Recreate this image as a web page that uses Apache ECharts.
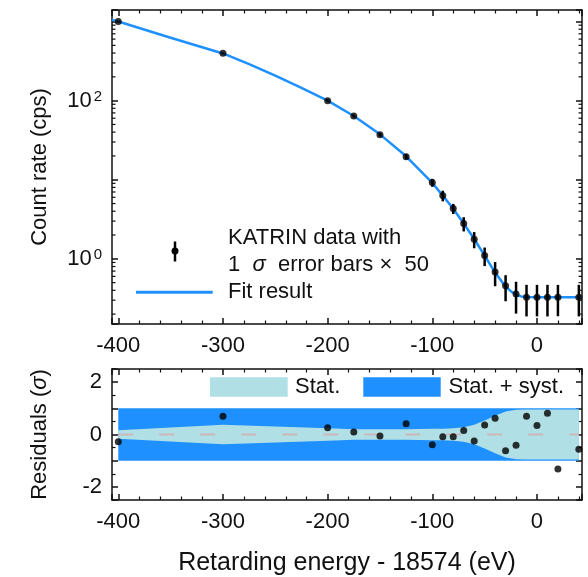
<!DOCTYPE html>
<html><head><meta charset="utf-8">
<script src="https://cdn.jsdelivr.net/npm/echarts@6/dist/echarts.min.js"></script>
<style>html,body{margin:0;padding:0;background:#fff}#c{width:588px;height:577px}</style>
</head><body><div id="c"></div>
<script>
// ---------- data ----------
const energies = [-400,-300,-200,-175,-150,-125,-100,-90,-80,-70,-60,-50,-40,-30,-20,-10,0,10,20,40];
const countRates = [1000,397,100,64,37.1,19.6,9.2,6.3,4.32,2.79,1.77,1.10,0.68,0.456,0.358,0.328,0.328,0.328,0.328,0.328];
const rateErrors50 = [8,6,3,2.5,1.9,1.5,1.07,0.97,0.63,0.57,0.41,0.29,0.23,0.165,0.155,0.141,0.141,0.141,0.14,0.141];
const fitEnergies = [-406,-400,-350,-300,-275,-250,-225,-200,-175,-150,-125,-100,-90,-80,-70,-60,-50,-40,-30,-25,-20,-15,-10,0,10,20,30,43];
const fitRates = [1050,1000,625,395,290,207,145,100,64,37.5,19.8,9.1,6.3,4.3,2.8,1.78,1.1,0.67,0.445,0.39,0.352,0.335,0.33,0.328,0.328,0.328,0.328,0.328];
const residuals = [-0.28,0.7,0.26,0.1,-0.06,0.41,-0.39,-0.09,-0.09,0.15,-0.25,0.36,0.62,-0.62,-0.41,0.7,0.34,0.81,-1.32,-0.56];
const statHalfWidth = [0.16,0.37,0.24,0.2,0.2,0.2,0.22,0.22,0.24,0.28,0.37,0.53,0.72,0.88,0.94,0.95,0.95,0.95,0.95,0.95];
const totalHalfWidth = 1.0;
const xTickLabels = [-400,-300,-200,-100,0];
const logTickLabels = {0: '{b|10}{s|0}', 2: '{b|10}{s|2}'};
const residualTickLabels = [-2,0,2];

// ---------- layout / style ----------
const FONT = 'Liberation Sans';
const X_MIN = -406, X_MAX = 43;
const Y_LOG_MIN = 0.15, Y_LOG_MAX = 1400;
const RES_MIN = -2.5, RES_MAX = 2.5;
const INK = '#111';
const BLUE = '#1e90ff';
const LIGHT = '#b0e0e6';

const logMinorTicks = [];
for (const d of [0.1, 1, 10, 100]) for (let k = 2; k <= 9; k++) {
  const v = +(d * k).toPrecision(3);
  if (v > Y_LOG_MIN && v < Y_LOG_MAX) logMinorTicks.push(v);
}

const axisLine = {onZero: false, lineStyle: {color: INK, width: 1.5}};
const axisTick = {inside: true, length: 6, lineStyle: {color: INK, width: 1.5}};
const minorTick = (n) => ({show: true, splitNumber: n, length: 3.5, lineStyle: {color: INK, width: 1.2}});

function xAxisCfg(grid, showLabels, margin) {
  return {
    type: 'value', gridIndex: grid, min: X_MIN, max: X_MAX, splitNumber: 5,
    axisLine, axisTick, minorTick: minorTick(5), splitLine: {show: false},
    axisLabel: {show: showLabels, margin, fontFamily: FONT, fontSize: 22, color: INK,
      formatter: v => xTickLabels.includes(Math.round(v * 1000) / 1000) ? String(v) : ''}
  };
}
function logAxisCfg(showLabels) {
  return {
    type: 'log', logBase: 10, gridIndex: 0, min: Y_LOG_MIN, max: Y_LOG_MAX,
    axisLine, axisTick, minorTick: {show: false}, splitLine: {show: false},
    axisLabel: {show: showLabels, margin: 10, color: INK,
      formatter: v => { const e = Math.log10(v); const r = Math.round(e);
        return Math.abs(e - r) < 1e-6 && logTickLabels[r] ? logTickLabels[r] : ''; },
      rich: {b: {fontFamily: FONT, fontSize: 22, color: INK},
             s: {fontFamily: FONT, fontSize: 15, color: INK, verticalAlign: 'top', padding: [0, 0, 0, 2]}}}
  };
}
function resAxisCfg(showLabels) {
  return {
    type: 'value', gridIndex: 1, min: RES_MIN, max: RES_MAX, splitNumber: 5,
    axisLine, axisTick, minorTick: minorTick(2), splitLine: {show: false},
    axisLabel: {show: showLabels, margin: 10, fontFamily: FONT, fontSize: 22, color: INK,
      formatter: v => residualTickLabels.includes(Math.round(v * 1000) / 1000) ? String(v) : ''}
  };
}

const chart = echarts.init(document.getElementById('c'));
const option = {
  animation: false,
  backgroundColor: '#fff',
  grid: [
    {left: 112, top: 10, width: 470, height: 314},
    {left: 112, top: 369, width: 470, height: 131}
  ],
  xAxis: [xAxisCfg(0, true, 11), xAxisCfg(0, false, 0), xAxisCfg(1, true, 11), xAxisCfg(1, false, 0)],
  yAxis: [logAxisCfg(true), logAxisCfg(false), resAxisCfg(true), resAxisCfg(false)],
  series: [
    { // fit
      type: 'line', xAxisIndex: 0, yAxisIndex: 0, z: 2,
      data: fitEnergies.map((x, i) => [x, fitRates[i]]),
      showSymbol: false, smooth: false,
      lineStyle: {color: BLUE, width: 2.5, join: 'round'}, silent: true
    },
    { // error bars
      type: 'custom', xAxisIndex: 0, yAxisIndex: 0, z: 3,
      data: energies.map((x, i) => [x, countRates[i], rateErrors50[i]]),
      encode: {x: 0, y: 1},
      renderItem: (p, api) => {
        const x = api.value(0), y = api.value(1), e = api.value(2);
        const t = api.coord([x, y + e]), b = api.coord([x, y - e]);
        return {type: 'line', shape: {x1: t[0], y1: t[1], x2: b[0], y2: b[1]}, style: {stroke: '#000', lineWidth: 2.5}};
      }
    },
    { // points
      type: 'scatter', xAxisIndex: 0, yAxisIndex: 0, z: 4,
      data: energies.map((x, i) => [x, countRates[i]]),
      symbolSize: 7, itemStyle: {color: '#000'}
    },
    { // log minor ticks (left & right)
      type: 'custom', xAxisIndex: 0, yAxisIndex: 0, z: 5, silent: true, clip: false,
      data: logMinorTicks.map(v => [X_MIN, v]), encode: {x: 0, y: 1},
      renderItem: (p, api) => {
        const v = api.value(1);
        const l = api.coord([X_MIN, v]), r = api.coord([X_MAX, v]);
        return {type: 'group', children: [
          {type: 'line', shape: {x1: l[0], y1: l[1], x2: l[0] + 3.5, y2: l[1]}, style: {stroke: INK, lineWidth: 1.2}},
          {type: 'line', shape: {x1: r[0], y1: r[1], x2: r[0] - 3.5, y2: r[1]}, style: {stroke: INK, lineWidth: 1.2}}
        ]};
      }
    },
    { // stat + syst band
      type: 'custom', xAxisIndex: 2, yAxisIndex: 2, z: 1, silent: true,
      data: [[energies[0], totalHalfWidth, energies[energies.length - 1]]], encode: {x: 0, y: 1},
      renderItem: (p, api) => {
        const a = api.coord([api.value(0), api.value(1)]);
        const b = api.coord([api.value(2), -api.value(1)]);
        return {type: 'rect', shape: {x: a[0], y: a[1], width: b[0] - a[0], height: b[1] - a[1]}, style: {fill: BLUE}};
      }
    },
    { // stat band
      type: 'custom', xAxisIndex: 2, yAxisIndex: 2, z: 2, silent: true,
      data: energies.map((x, i) => [x, statHalfWidth[i]]), encode: {x: 0, y: 1},
      renderItem: (p, api) => {
        if (p.dataIndex !== 0) return null;
        const up = energies.map((x, i) => api.coord([x, statHalfWidth[i]]));
        const lo = energies.map((x, i) => api.coord([x, -statHalfWidth[i]])).reverse();
        return {type: 'polygon', shape: {points: up.concat(lo)}, style: {fill: LIGHT}};
      }
    },
    { // zero line
      type: 'line', xAxisIndex: 2, yAxisIndex: 2, z: 3, silent: true,
      data: [[energies[0], 0], [energies[energies.length - 1], 0]],
      showSymbol: false, lineStyle: {color: '#cbb7b7', width: 2, type: [15, 26]}
    },
    { // residual points
      type: 'scatter', xAxisIndex: 2, yAxisIndex: 2, z: 4,
      data: energies.map((x, i) => [x, residuals[i]]),
      symbolSize: 7, itemStyle: {color: '#000'}
    }
  ],
  graphic: [
    // top legend
    {type: 'line', shape: {x1: 175, y1: 241.5, x2: 175, y2: 261.5}, style: {stroke: '#000', lineWidth: 2.5}},
    {type: 'circle', shape: {cx: 175, cy: 251, r: 3.5}, style: {fill: '#000'}},
    {type: 'text', style: {text: 'KATRIN data with', x: 228, y: 238, fontFamily: FONT, fontSize: 22, fill: INK, verticalAlign: 'middle'}},
    {type: 'text', style: {text: '1  {i|σ}  error bars ×  50', x: 228, y: 265, fontFamily: FONT, fontSize: 22, fill: INK, verticalAlign: 'middle',
      rich: {i: {fontFamily: FONT, fontSize: 22, fontStyle: 'italic', fill: INK}}}},
    {type: 'line', shape: {x1: 136, y1: 292.3, x2: 212.7, y2: 292.3}, style: {stroke: BLUE, lineWidth: 3}},
    {type: 'text', style: {text: 'Fit result', x: 228, y: 292, fontFamily: FONT, fontSize: 22, fill: INK, verticalAlign: 'middle'}},
    // bottom legend
    {type: 'rect', shape: {x: 210, y: 377.3, width: 77.7, height: 19.4}, style: {fill: LIGHT}},
    {type: 'text', style: {text: 'Stat.', x: 295, y: 387, fontFamily: FONT, fontSize: 22, fill: INK, verticalAlign: 'middle'}},
    {type: 'rect', shape: {x: 363.3, y: 377.3, width: 77.4, height: 19.4}, style: {fill: BLUE}},
    {type: 'text', style: {text: 'Stat. + syst.', x: 448.5, y: 387, fontFamily: FONT, fontSize: 22, fill: INK, verticalAlign: 'middle'}},
    // axis titles
    {type: 'text', x: 40, y: 167, rotation: Math.PI / 2,
      style: {text: 'Count rate (cps)', x: 0, y: 0, fontFamily: FONT, fontSize: 22, fill: INK, align: 'center', verticalAlign: 'middle'}},
    {type: 'text', x: 40, y: 434.5, rotation: Math.PI / 2,
      style: {text: 'Residuals ({i|σ})', x: 0, y: 0, fontFamily: FONT, fontSize: 22, fill: INK, align: 'center', verticalAlign: 'middle',
        rich: {i: {fontFamily: FONT, fontSize: 22, fontStyle: 'italic', fill: INK}}}},
    {type: 'text', style: {text: 'Retarding energy - 18574 (eV)', x: 347, y: 563, fontFamily: FONT, fontSize: 25, fill: INK, align: 'center', verticalAlign: 'middle'}}
  ]
};
chart.setOption(option);
</script>
</body></html>
